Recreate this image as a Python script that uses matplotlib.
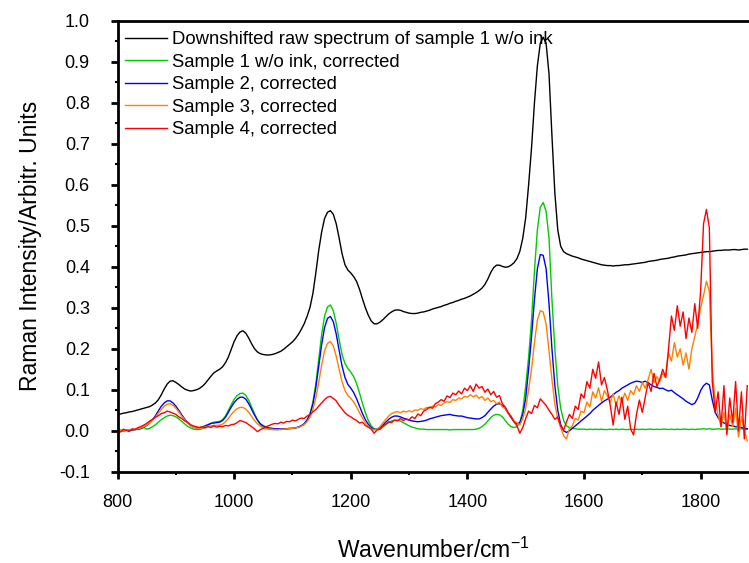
import numpy as np
import matplotlib.pyplot as plt
from matplotlib.ticker import MultipleLocator, AutoMinorLocator

plt.rcParams['font.family'] = ['Liberation Sans', 'DejaVu Sans']
plt.rcParams['axes.unicode_minus'] = False

# wavenumber grid, 5 cm-1 step (800 ... 1880)
wavenumber = np.arange(800, 1885, 5)

raw_sample1 = [
    0.040, 0.041, 0.043, 0.044, 0.046, 0.047, 0.049, 0.051, 0.053, 0.055,
    0.057, 0.059, 0.063, 0.068, 0.076, 0.088, 0.102, 0.114, 0.121, 0.122,
    0.118, 0.113, 0.107, 0.102, 0.099, 0.097, 0.098, 0.100, 0.103, 0.108,
    0.115, 0.124, 0.133, 0.141, 0.146, 0.150, 0.156, 0.166, 0.180, 0.199,
    0.218, 0.232, 0.241, 0.244, 0.238, 0.226, 0.212, 0.200, 0.192, 0.188,
    0.186, 0.185, 0.185, 0.186, 0.188, 0.191, 0.194, 0.199, 0.205, 0.211,
    0.217, 0.225, 0.235, 0.247, 0.261, 0.279, 0.301, 0.335, 0.385, 0.440,
    0.485, 0.518, 0.533, 0.537, 0.528, 0.505, 0.470, 0.432, 0.405, 0.392,
    0.385, 0.376, 0.364, 0.345, 0.322, 0.300, 0.282, 0.268, 0.261, 0.261,
    0.265, 0.271, 0.278, 0.285, 0.290, 0.294, 0.295, 0.294, 0.291, 0.289,
    0.287, 0.286, 0.286, 0.287, 0.289, 0.290, 0.292, 0.294, 0.297, 0.299,
    0.301, 0.303, 0.306, 0.308, 0.311, 0.313, 0.316, 0.318, 0.321, 0.323,
    0.326, 0.329, 0.333, 0.337, 0.342, 0.348, 0.357, 0.370, 0.386, 0.398,
    0.404, 0.404, 0.401, 0.399, 0.400, 0.404, 0.410, 0.420, 0.438, 0.470,
    0.520, 0.600, 0.690, 0.800, 0.890, 0.945, 0.960, 0.945, 0.870, 0.720,
    0.580, 0.490, 0.450, 0.437, 0.432, 0.429, 0.426, 0.424, 0.422, 0.419,
    0.417, 0.415, 0.413, 0.411, 0.409, 0.407, 0.405, 0.404, 0.403, 0.403,
    0.402, 0.403, 0.403, 0.404, 0.405, 0.405, 0.406, 0.407, 0.408, 0.409,
    0.410, 0.411, 0.413, 0.414, 0.415, 0.416, 0.418, 0.419, 0.420, 0.421,
    0.423, 0.424, 0.426, 0.427, 0.428, 0.429, 0.431, 0.432, 0.433, 0.434,
    0.435, 0.436, 0.437, 0.437, 0.438, 0.439, 0.440, 0.440, 0.441, 0.441,
    0.441, 0.442, 0.442, 0.441, 0.442, 0.443, 0.443,
]

sample1 = [
    0.000, 0.001, 0.000, 0.001, 0.002, 0.002, 0.003, 0.004, 0.005, 0.008,
    0.004, 0.006, 0.010, 0.015, 0.021, 0.027, 0.032, 0.036, 0.038, 0.037,
    0.034, 0.029, 0.023, 0.017, 0.011, 0.007, 0.004, 0.003, 0.003, 0.005,
    0.008, 0.013, 0.018, 0.021, 0.022, 0.023, 0.027, 0.036, 0.050, 0.064,
    0.077, 0.086, 0.091, 0.092, 0.086, 0.074, 0.058, 0.041, 0.026, 0.015,
    0.008, 0.005, 0.004, 0.003, 0.003, 0.003, 0.003, 0.004, 0.004, 0.005,
    0.006, 0.007, 0.009, 0.012, 0.017, 0.026, 0.042, 0.070, 0.115, 0.175,
    0.235, 0.280, 0.302, 0.307, 0.293, 0.262, 0.222, 0.186, 0.164, 0.152,
    0.143, 0.132, 0.115, 0.092, 0.067, 0.044, 0.025, 0.012, 0.005, 0.003,
    0.004, 0.009, 0.015, 0.020, 0.024, 0.026, 0.026, 0.024, 0.020, 0.016,
    0.012, 0.009, 0.007, 0.005, 0.004, 0.004, 0.003, 0.003, 0.003, 0.003,
    0.003, 0.003, 0.003, 0.003, 0.002, 0.003, 0.003, 0.003, 0.003, 0.003,
    0.003, 0.003, 0.003, 0.004, 0.006, 0.010, 0.016, 0.024, 0.032, 0.038,
    0.040, 0.039, 0.034, 0.025, 0.016, 0.010, 0.008, 0.010, 0.020, 0.050,
    0.110, 0.180, 0.270, 0.390, 0.490, 0.545, 0.557, 0.535, 0.470, 0.320,
    0.200, 0.110, 0.055, 0.025, 0.012, 0.008, 0.006, 0.005, 0.004, 0.004,
    0.004, 0.003, 0.004, 0.003, 0.004, 0.003, 0.004, 0.003, 0.003, 0.004,
    0.003, 0.004, 0.003, 0.004, 0.003, 0.003, 0.004, 0.003, 0.004, 0.003,
    0.004, 0.003, 0.004, 0.004, 0.003, 0.004, 0.003, 0.004, 0.004, 0.003,
    0.004, 0.003, 0.004, 0.003, 0.004, 0.004, 0.003, 0.004, 0.003, 0.004,
    0.004, 0.005, 0.004, 0.005, 0.004, 0.004, 0.005, 0.004, 0.004, 0.005,
    0.004, 0.004, 0.005, 0.004, 0.005, 0.004, 0.004,
]

sample2 = [
    0.000, 0.001, 0.000, 0.001, 0.002, 0.002, 0.003, 0.004, 0.006, 0.009,
    0.013, 0.019, 0.027, 0.037, 0.049, 0.060, 0.068, 0.073, 0.073, 0.068,
    0.060, 0.050, 0.039, 0.029, 0.020, 0.013, 0.009, 0.007, 0.007, 0.009,
    0.012, 0.015, 0.018, 0.019, 0.020, 0.021, 0.025, 0.033, 0.045, 0.058,
    0.069, 0.077, 0.082, 0.082, 0.077, 0.066, 0.052, 0.038, 0.026, 0.017,
    0.012, 0.009, 0.007, 0.006, 0.005, 0.005, 0.005, 0.005, 0.005, 0.006,
    0.006, 0.007, 0.009, 0.012, 0.017, 0.026, 0.040, 0.065, 0.105, 0.158,
    0.210, 0.252, 0.274, 0.279, 0.266, 0.236, 0.196, 0.158, 0.130, 0.113,
    0.104, 0.093, 0.078, 0.060, 0.042, 0.027, 0.016, 0.008, 0.003, 0.004,
    0.008, 0.014, 0.021, 0.028, 0.033, 0.036, 0.036, 0.034, 0.031, 0.028,
    0.026, 0.024, 0.023, 0.022, 0.023, 0.024, 0.026, 0.029, 0.031, 0.033,
    0.035, 0.037, 0.038, 0.039, 0.040, 0.038, 0.037, 0.036, 0.036, 0.034,
    0.032, 0.031, 0.030, 0.029, 0.029, 0.032, 0.037, 0.045, 0.053, 0.060,
    0.065, 0.066, 0.062, 0.054, 0.043, 0.032, 0.022, 0.017, 0.020, 0.040,
    0.080, 0.150, 0.230, 0.320, 0.395, 0.430, 0.428, 0.395, 0.310, 0.200,
    0.110, 0.050, 0.015, 0.000, -0.004, 0.000, 0.006, 0.012, 0.018, 0.024,
    0.030, 0.036, 0.042, 0.050, 0.056, 0.062, 0.068, 0.073, 0.077, 0.082,
    0.088, 0.094, 0.098, 0.104, 0.108, 0.112, 0.116, 0.119, 0.121, 0.120,
    0.118, 0.121, 0.117, 0.112, 0.108, 0.106, 0.103, 0.104, 0.100, 0.097,
    0.099, 0.093, 0.088, 0.083, 0.078, 0.072, 0.068, 0.064, 0.067, 0.080,
    0.098, 0.110, 0.116, 0.112, 0.075, 0.045, 0.032, 0.024, 0.019, 0.016,
    0.013, 0.012, 0.010, 0.009, 0.008, 0.006, 0.005,
]

sample3 = [
    0.000, 0.001, 0.001, 0.002, 0.003, 0.003, 0.004, 0.005, 0.007, 0.010,
    0.014, 0.019, 0.026, 0.034, 0.043, 0.052, 0.060, 0.065, 0.066, 0.062,
    0.055, 0.046, 0.036, 0.027, 0.019, 0.013, 0.009, 0.007, 0.006, 0.007,
    0.009, 0.011, 0.012, 0.013, 0.013, 0.014, 0.016, 0.022, 0.030, 0.040,
    0.048, 0.054, 0.057, 0.057, 0.053, 0.045, 0.035, 0.025, 0.017, 0.011,
    0.007, 0.005, 0.004, 0.004, 0.003, 0.003, 0.004, 0.004, 0.005, 0.005,
    0.006, 0.007, 0.008, 0.011, 0.015, 0.022, 0.033, 0.052, 0.080, 0.118,
    0.160, 0.195, 0.213, 0.218, 0.207, 0.182, 0.150, 0.120, 0.098, 0.086,
    0.079, 0.070, 0.058, 0.044, 0.031, 0.020, 0.011, 0.005, 0.002, 0.004,
    0.010, 0.019, 0.028, 0.036, 0.042, 0.045, 0.047, 0.044, 0.048, 0.046,
    0.049, 0.046, 0.051, 0.050, 0.054, 0.052, 0.057, 0.055, 0.060, 0.058,
    0.064, 0.062, 0.068, 0.071, 0.069, 0.076, 0.074, 0.080, 0.078, 0.084,
    0.082, 0.088, 0.083, 0.087, 0.079, 0.084, 0.074, 0.080, 0.071, 0.074,
    0.066, 0.070, 0.058, 0.055, 0.042, 0.036, 0.024, 0.020, 0.014, 0.030,
    0.055, 0.100, 0.150, 0.215, 0.270, 0.293, 0.290, 0.260, 0.195, 0.125,
    0.065, 0.030, 0.008, -0.012, -0.020, 0.006, 0.012, 0.030, 0.026, 0.048,
    0.044, 0.070, 0.058, 0.095, 0.080, 0.105, 0.072, 0.098, 0.085, 0.070,
    0.090, 0.062, 0.085, 0.070, 0.092, 0.074, 0.098, 0.088, 0.110, 0.096,
    0.118, 0.104, 0.125, 0.150, 0.118, 0.132, 0.120, 0.140, 0.130, 0.190,
    0.170, 0.215, 0.180, 0.200, 0.160, 0.190, 0.150, 0.200, 0.230, 0.260,
    0.300, 0.330, 0.365, 0.340, 0.150, 0.070, 0.040, 0.010, 0.045, 0.000,
    0.040, 0.010, 0.055, -0.015, 0.035, 0.000, -0.025,
]

sample4 = [
    0.000, -0.003, 0.004, 0.001, -0.002, 0.005, 0.003, 0.008, 0.010, 0.014,
    0.018, 0.024, 0.028, 0.033, 0.037, 0.042, 0.044, 0.048, 0.046, 0.043,
    0.040, 0.034, 0.030, 0.024, 0.021, 0.015, 0.012, 0.010, 0.008, 0.010,
    0.007, 0.010, 0.008, 0.012, 0.009, 0.011, 0.010, 0.013, 0.012, 0.015,
    0.016, 0.020, 0.025, 0.023, 0.020, 0.015, 0.010, 0.004, -0.002, 0.003,
    0.006, 0.010, 0.013, 0.016, 0.018, 0.017, 0.021, 0.019, 0.023, 0.022,
    0.026, 0.024, 0.028, 0.031, 0.030, 0.036, 0.040, 0.046, 0.052, 0.060,
    0.068, 0.076, 0.082, 0.084, 0.079, 0.073, 0.062, 0.053, 0.044, 0.038,
    0.034, 0.029, 0.025, 0.019, 0.021, 0.013, 0.009, 0.004, -0.006, 0.002,
    0.004, 0.012, 0.016, 0.022, 0.020, 0.026, 0.024, 0.030, 0.025, 0.029,
    0.027, 0.034, 0.030, 0.041, 0.037, 0.048, 0.052, 0.058, 0.055, 0.066,
    0.070, 0.076, 0.072, 0.085, 0.081, 0.092, 0.088, 0.097, 0.090, 0.104,
    0.098, 0.110, 0.096, 0.114, 0.104, 0.108, 0.094, 0.102, 0.088, 0.096,
    0.082, 0.086, 0.066, 0.058, 0.044, 0.034, 0.022, 0.012, -0.006, 0.008,
    0.030, 0.048, 0.042, 0.062, 0.056, 0.078, 0.070, 0.062, 0.050, 0.040,
    0.028, 0.034, 0.012, 0.002, 0.022, 0.040, 0.030, 0.060, 0.052, 0.090,
    0.080, 0.120, 0.104, 0.150, 0.128, 0.168, 0.112, 0.130, 0.100, 0.062,
    0.014, 0.070, 0.040, 0.082, 0.028, 0.060, 0.004, -0.010, 0.040, 0.075,
    0.045, 0.082, 0.118, 0.096, 0.140, 0.108, 0.125, 0.150, 0.130, 0.200,
    0.280, 0.245, 0.305, 0.255, 0.290, 0.225, 0.275, 0.240, 0.310, 0.250,
    0.340, 0.505, 0.540, 0.495, 0.120, 0.045, 0.095, 0.010, 0.110, -0.010,
    0.080, 0.020, 0.120, 0.000, 0.095, -0.020, 0.110,
]

labels = [
    "Downshifted raw spectrum of sample 1 w/o ink",
    "Sample 1 w/o ink, corrected",
    "Sample 2, corrected",
    "Sample 3, corrected",
    "Sample 4, corrected",
]
colors = ["black", "#00cc00", "#0000ff", "#ff8000", "#ff0000"]

fig = plt.figure(figsize=(7.49, 5.63), dpi=100)
ax = fig.add_axes([0.157, 0.162, 0.843, 0.801])

for y, lab, c in zip([raw_sample1, sample1, sample2, sample3, sample4], labels, colors):
    ax.plot(wavenumber, y, color=c, lw=1.0, label=lab)

ax.set_xlim(800, 1883)
ax.set_ylim(-0.1, 1.0)
ax.xaxis.set_major_locator(MultipleLocator(200))
ax.xaxis.set_minor_locator(AutoMinorLocator(2))
ax.yaxis.set_major_locator(MultipleLocator(0.1))
ax.yaxis.set_minor_locator(AutoMinorLocator(2))
ax.yaxis.set_major_formatter(plt.FormatStrFormatter('%.1f'))

for side in ['left', 'bottom', 'top']:
    ax.spines[side].set_linewidth(2)
ax.spines['right'].set_visible(False)
ax.tick_params(which='major', direction='out', length=5, width=2, labelsize=13)
ax.tick_params(which='minor', direction='out', length=2.5, width=1.5)
ax.tick_params(axis='x', which='major', pad=11)
ax.tick_params(axis='y', which='major', pad=15)
ax.tick_params(top=False, right=False, which='both')

ax.set_xlabel("Wavenumber/cm$^{\\mathregular{-1}}$", fontsize=16.5, labelpad=19)
ax.set_ylabel("Raman Intensity/Arbitr. Units", fontsize=16.5, labelpad=12)

ax.legend(loc='upper left', bbox_to_anchor=(0.012, 0.977), frameon=False, fontsize=13.3,
          handlelength=2.27, handletextpad=0.27, labelspacing=0.3, borderpad=0, borderaxespad=0)

fig.savefig("out.png", dpi=100)
